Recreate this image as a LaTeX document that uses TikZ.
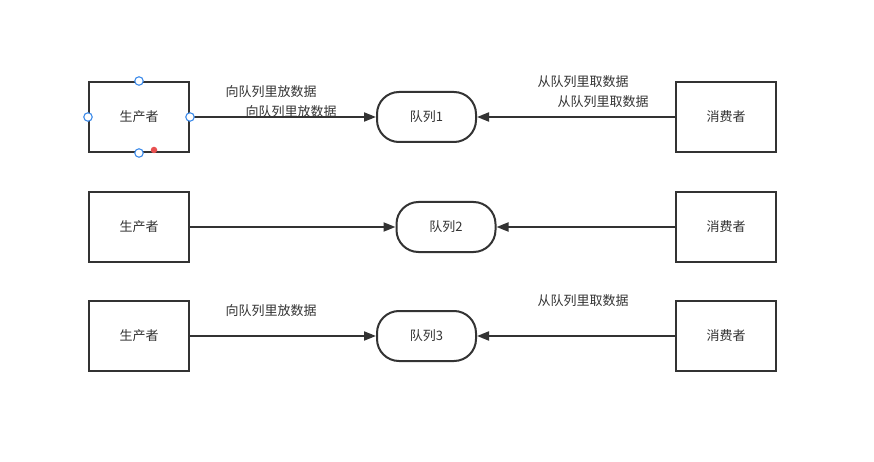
\documentclass[tikz,border=0pt]{standalone}
\usepackage{fontspec}
\setmainfont{Noto Sans CJK SC}
\usetikzlibrary{arrows.meta}
\definecolor{ink}{HTML}{333333}
\definecolor{handle}{HTML}{3D8BEA}
\definecolor{hot}{HTML}{E85050}
\tikzset{
  box/.style={draw=ink, line width=2pt, minimum width=100pt, minimum height=70pt, inner sep=0pt, text=ink, font=\fontsize{13pt}{15pt}\selectfont},
  queue/.style={draw=ink, line width=2pt, rounded corners=22pt, minimum width=99pt, minimum height=50pt, inner sep=0pt, text=ink, font=\fontsize{13pt}{15pt}\selectfont},
  flow/.style={draw=ink, line width=2pt, -{Triangle[length=12pt,width=9pt]}},
  lbl/.style={text=ink, inner sep=0pt, font=\fontsize{13pt}{15pt}\selectfont},
  hnd/.style={circle, draw=handle, fill=white, line width=1.1pt, minimum size=8.5pt, inner sep=0pt},
  hotdot/.style={circle, fill=hot, minimum size=6.5pt, inner sep=0pt}
}
\begin{document}
\begin{tikzpicture}[x=1pt,y=-1pt]
\useasboundingbox (0,0) rectangle (874,462);
% row 1
\node[box] (p1) at (139,117) {生产者};
\node[box] (c1) at (726,117) {消费者};
\node[queue] (q1) at (426.5,117) {队列1};
\draw[flow] (p1) -- (q1);
\draw[flow] (c1) -- (q1);
\node[lbl] (t1a) at (271,92) {向队列里放数据};
\node[lbl] (t1b) at (291,112) {向队列里放数据};
\node[lbl] (t1c) at (583,82) {从队列里取数据};
\node[lbl] (t1d) at (603,102) {从队列里取数据};
\node[hnd] (h1) at (p1.north) {};
\node[hnd] (h2) at (p1.west) {};
\node[hnd] (h3) at (p1.east) {};
\node[hnd] (h4) at (p1.south) {};
\node[hotdot] (h5) at (154,150) {};
% row 2
\node[box] (p2) at (139,227) {生产者};
\node[box] (c2) at (726,227) {消费者};
\node[queue] (q2) at (446,227) {队列2};
\draw[flow] (p2) -- (q2);
\draw[flow] (c2) -- (q2);
% row 3
\node[box] (p3) at (139,336) {生产者};
\node[box] (c3) at (726,336) {消费者};
\node[queue] (q3) at (426.5,336) {队列3};
\draw[flow] (p3) -- (q3);
\draw[flow] (c3) -- (q3);
\node[lbl] (t3a) at (271,311) {向队列里放数据};
\node[lbl] (t3c) at (583,301) {从队列里取数据};
\end{tikzpicture}
\end{document}
